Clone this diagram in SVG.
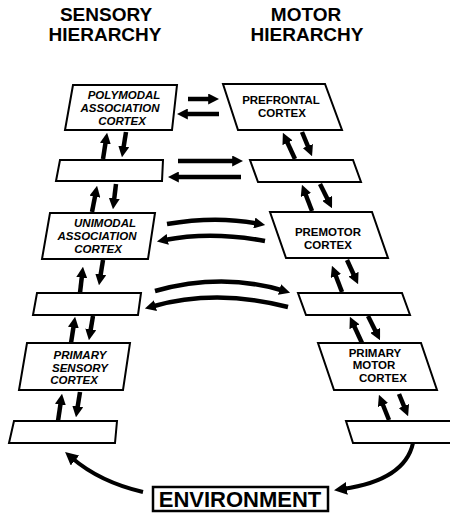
<svg xmlns="http://www.w3.org/2000/svg" width="450" height="515" viewBox="0 0 450 515">
<style>
.box{fill:#fff;stroke:#000;stroke-width:2}
.t{font-family:"Liberation Sans",Arial,sans-serif;font-weight:bold;text-anchor:middle;fill:#000}
.title{font-size:19px}
.lab{font-size:11.5px}
.it{font-style:italic}
.env{font-size:22px}
.arr{fill:none;stroke:#000;stroke-width:4.5;marker-end:url(#ah)}
.arr2{fill:none;stroke:#000;stroke-width:4;marker-end:url(#ah2)}
</style>
<defs>
<marker id="ah" viewBox="0 0 10 10" refX="3" refY="5" markerWidth="11" markerHeight="11" markerUnits="userSpaceOnUse" orient="auto"><path d="M0,0 L10,5 L0,10 z" fill="#000"/></marker>
<marker id="ah2" viewBox="0 0 10 10" refX="3" refY="5" markerWidth="13" markerHeight="13" markerUnits="userSpaceOnUse" orient="auto"><path d="M0,0 L10,5 L0,10 z" fill="#000"/></marker>
</defs>
<rect width="450" height="515" fill="#fff"/>
<g id="titles">
<text class="t title" x="106" y="21">SENSORY</text>
<text class="t title" x="105" y="41">HIERARCHY</text>
<text class="t title" x="306" y="21">MOTOR</text>
<text class="t title" x="307" y="41">HIERARCHY</text>
</g>
<g id="polymodal">
<polygon class="box" points="73,85 177,85 172,130 65,130"/>
<text class="t lab it" x="124" y="99">POLYMODAL</text>
<text class="t lab it" x="120" y="112">ASSOCIATION</text>
<text class="t lab it" x="122" y="125">CORTEX</text>
</g>
<g id="s2"><polygon class="box" points="60,160 163,160 162,181 56,181"/></g>
<g id="unimodal">
<polygon class="box" points="50,213 155,213 148,259 42,259"/>
<text class="t lab it" x="105" y="227">UNIMODAL</text>
<text class="t lab it" x="97" y="240">ASSOCIATION</text>
<text class="t lab it" x="98" y="253">CORTEX</text>
</g>
<g id="s4"><polygon class="box" points="37,293 141,293 138,315 33,315"/></g>
<g id="primary-sensory">
<polygon class="box" points="27,343 130,343 123,390 19,390"/>
<text class="t lab it" x="80" y="359">PRIMARY</text>
<text class="t lab it" x="80" y="372">SENSORY</text>
<text class="t lab it" x="74" y="384">CORTEX</text>
</g>
<g id="s6"><polygon class="box" points="14,421 117,421 115,443 9,443"/></g>
<g id="prefrontal">
<polygon class="box" points="223,84 325,84 342,130 238,130"/>
<text class="t lab" x="281" y="104">PREFRONTAL</text>
<text class="t lab" x="282" y="117">CORTEX</text>
</g>
<g id="m2"><polygon class="box" points="250,160 353,160 361,182 258,182"/></g>
<g id="premotor">
<polygon class="box" points="270,212 372,212 388,258 286,258"/>
<text class="t lab" x="328" y="236">PREMOTOR</text>
<text class="t lab" x="328" y="249">CORTEX</text>
</g>
<g id="m4"><polygon class="box" points="298,293 402,293 410,315 306,315"/></g>
<g id="primary-motor">
<polygon class="box" points="318,343 421,343 437,390 334,390"/>
<text class="t lab" x="375" y="357">PRIMARY</text>
<text class="t lab" x="374" y="369">MOTOR</text>
<text class="t lab" x="383" y="382">CORTEX</text>
</g>
<g id="m6"><polygon class="box" points="346,421 455,421 458,443 353,443"/></g>
<g id="environment">
<rect x="153" y="487" width="175" height="24" fill="#fff" stroke="#000" stroke-width="2.5"/>
<text class="t env" x="240" y="507">ENVIRONMENT</text>
</g>
<g id="connectors">
<path class="arr" d="M103,159 L105.9,140.4"/>
<path class="arr" d="M126,132 L123.2,149.6"/>
<path class="arr" d="M92,212 L95.6,193.4"/>
<path class="arr" d="M116,184 L113.9,201.6"/>
<path class="arr" d="M80,293 L82.1,274.4"/>
<path class="arr" d="M103,260 L100.2,277.6"/>
<path class="arr" d="M71,343 L73.9,324.4"/>
<path class="arr" d="M93,316 L90.2,332.6"/>
<path class="arr" d="M58,421 L60.9,401.4"/>
<path class="arr" d="M80,392 L77.2,409.6"/>
<path class="arr" d="M295,159 L286.1,139.8"/>
<path class="arr" d="M302,132 L309.1,149.1"/>
<path class="arr" d="M312,211 L304.7,192"/>
<path class="arr" d="M320,184 L328.6,201.3"/>
<path class="arr" d="M342,292 L334.7,273"/>
<path class="arr" d="M347,260 L354.9,277.2"/>
<path class="arr" d="M362,343 L353.1,323.8"/>
<path class="arr" d="M368,316 L376.6,333.3"/>
<path class="arr" d="M389,420 L381.8,402"/>
<path class="arr" d="M399,394 L405.2,409.1"/>
<path class="arr" d="M188,99 L211.5,99"/>
<path class="arr" d="M219,114 L184.5,114"/>
<path class="arr" d="M178,161 L235.5,161"/>
<path class="arr" d="M241,177 L175.5,177"/>
<path class="arr" d="M167,224 Q216,215.5 257.6,223.6"/>
<path class="arr" d="M265,241 Q211,231 164.5,240"/>
<path class="arr" d="M155,291 Q222,272.5 282.7,290.5"/>
<path class="arr" d="M288,307 Q216,288.5 152.3,306.5"/>
<path class="arr2" d="M143,492 Q100,482 72,458"/>
<path class="arr2" d="M413,443 Q405,480 343,489"/>
</g>
</svg>
